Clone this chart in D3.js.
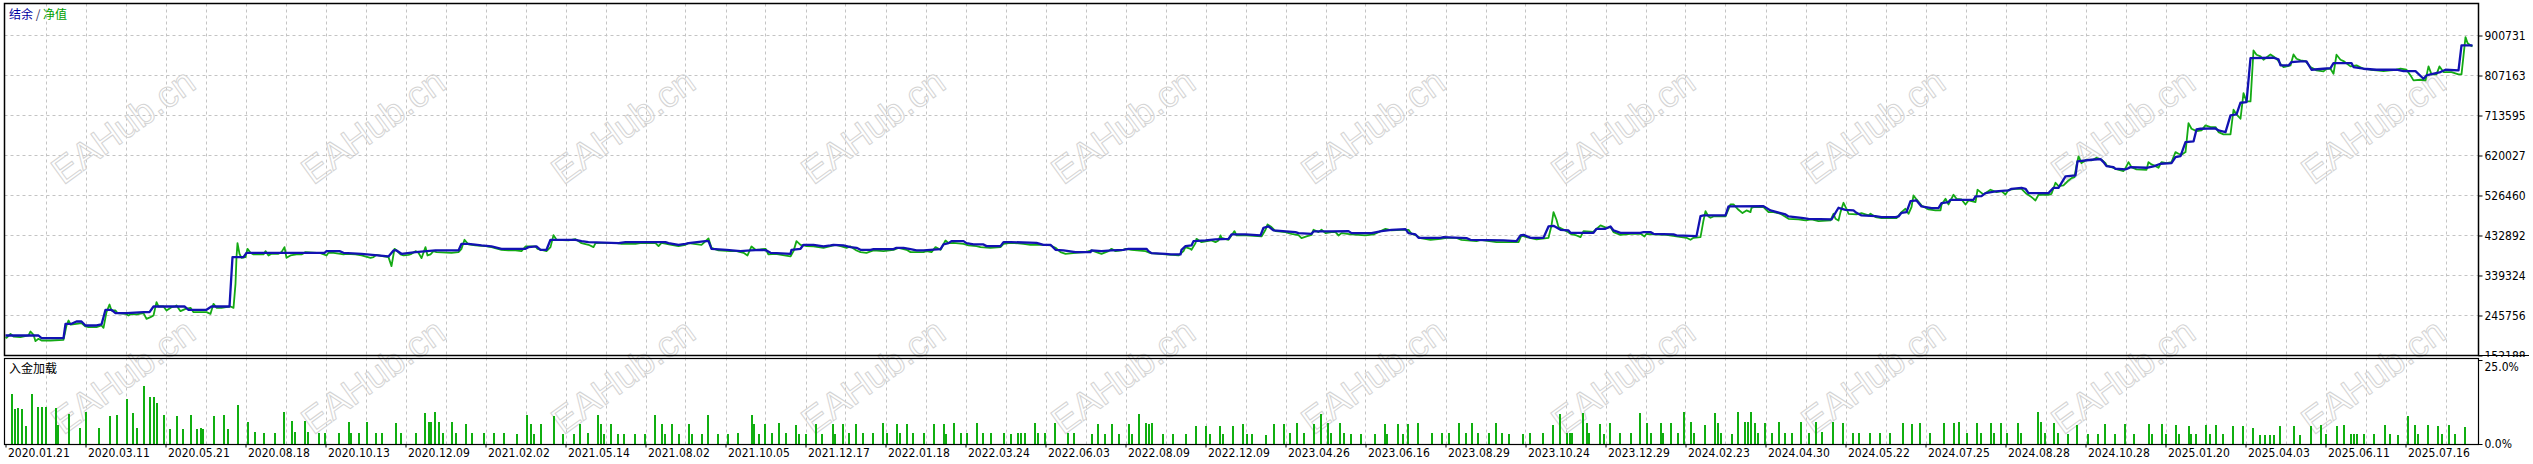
<!DOCTYPE html>
<html>
<head>
<meta charset="utf-8">
<script src="https://cdn.jsdelivr.net/npm/d3@7/dist/d3.min.js"></script>
<style>
  body { margin: 0; background: #fff; }
  svg { display: block; }
  .axis text { font-family: "DejaVu Sans Condensed", "DejaVu Sans", sans-serif; font-size: 12px; fill: #000; }
</style>
</head>
<body>
<div id="chart-area"></div>
<script>
// deal number -> balance
var balance = [[0,198990],[33,198990],[36,192750],[58,192750],[60,226290],[66,226290],[71,231750],[76,231750],[80,222390],[91,222390],[96,224730],[100,259050],[106,259050],[110,251250],[121,251250],[138,253590],[144,253590],[148,266850],[179,266850],[183,259050],[201,259050],[206,266850],[224,266850],[227,382290],[238,382290],[241,392430],[319,392430],[321,396330],[334,396330],[338,392430],[356,390090],[383,383850],[388,397890],[391,397890],[396,390090],[410,393990],[430,397890],[453,397890],[456,413490],[463,413490],[476,409590],[486,407250],[496,401790],[520,401790],[523,405690],[531,407250],[535,399450],[541,399450],[545,422850],[570,422850],[576,419730],[583,417390],[613,415050],[620,417390],[660,417390],[663,415050],[673,411150],[680,413490],[683,415050],[700,419730],[703,419730],[706,401790],[721,399450],[735,396330],[745,397890],[755,399450],[761,397890],[765,392430],[771,391650],[785,390090],[786,399450],[795,401790],[798,411150],[808,411150],[818,407250],[825,409590],[828,411150],[838,409590],[845,405690],[851,404130],[855,399450],[865,399450],[868,401010],[888,401010],[891,404130],[898,404130],[905,401010],[911,397890],[918,397890],[935,401010],[938,411930],[943,415050],[946,419730],[958,419730],[961,415050],[968,411930],[978,411930],[981,408030],[995,408030],[998,417390],[1005,417390],[1031,415830],[1038,411150],[1045,411150],[1050,399450],[1058,397890],[1070,393990],[1085,393990],[1086,397890],[1096,396330],[1106,397890],[1118,399450],[1123,401790],[1141,401790],[1143,396330],[1146,391650],[1160,390090],[1165,388530],[1175,388530],[1176,399450],[1180,408030],[1186,409590],[1188,419730],[1200,421290],[1210,423630],[1223,425190],[1226,435330],[1240,435330],[1255,432990],[1258,450930],[1263,454050],[1268,444690],[1290,440790],[1293,438450],[1306,436890],[1308,442350],[1326,442350],[1343,443130],[1346,438450],[1366,438450],[1376,443130],[1386,446250],[1400,447810],[1403,438450],[1410,435330],[1413,427530],[1435,427530],[1438,429090],[1461,426750],[1465,422850],[1498,421290],[1511,419730],[1515,432990],[1518,434550],[1525,427530],[1538,427530],[1543,454050],[1548,455610],[1555,446250],[1563,444690],[1565,439230],[1588,439230],[1591,448590],[1600,448590],[1605,454050],[1608,444690],[1615,439230],[1635,439230],[1638,440790],[1645,440790],[1648,436890],[1668,435330],[1671,432990],[1691,431430],[1695,478230],[1698,479790],[1720,479790],[1723,500850],[1758,501630],[1765,491490],[1780,482130],[1783,477450],[1796,474330],[1803,471990],[1826,470430],[1833,497730],[1840,493050],[1848,491490],[1851,486030],[1856,479790],[1870,478230],[1876,475890],[1890,475890],[1893,477450],[1896,486030],[1901,487590],[1905,513330],[1911,514890],[1916,500850],[1926,496950],[1933,496950],[1936,508650],[1943,510990],[1945,516450],[1968,516450],[1970,524250],[1976,525030],[1980,532050],[1990,535950],[2003,538290],[2006,542190],[2016,544530],[2020,542190],[2023,532050],[2043,532050],[2048,544530],[2053,544530],[2060,571050],[2070,573390],[2072,606150],[2086,610050],[2095,611610],[2098,604590],[2101,595230],[2108,592890],[2110,588990],[2120,587430],[2123,590550],[2125,592890],[2141,591330],[2148,594450],[2155,600690],[2166,602250],[2170,616290],[2175,618630],[2180,651390],[2188,652950],[2191,681030],[2195,682590],[2210,683370],[2213,678690],[2220,674790],[2225,713790],[2231,716130],[2235,743430],[2241,744990],[2245,847950],[2268,848730],[2273,844830],[2275,830790],[2283,830790],[2286,838590],[2295,840150],[2301,840150],[2306,820650],[2318,822990],[2325,824550],[2328,836250],[2346,836250],[2348,826890],[2358,822990],[2371,820650],[2391,820650],[2398,817530],[2410,817530],[2418,799590],[2421,807390],[2425,809730],[2435,815190],[2440,820650],[2453,819090],[2456,877590],[2467,877590]];

// deal number -> equity
var equity = [[0,195090],[1,193530],[5,202890],[8,196650],[15,195090],[23,198990],[25,208350],[28,200550],[30,185730],[33,191190],[36,187290],[45,187290],[58,188850],[61,222390],[63,234090],[65,224730],[71,226290],[76,227850],[80,220050],[83,218490],[91,218490],[96,222390],[98,216930],[101,253590],[104,271530],[106,257490],[110,257490],[112,251250],[120,249690],[123,245790],[126,249690],[131,248130],[138,251250],[141,237990],[145,241890],[148,245790],[151,276990],[153,266850],[158,266850],[161,257490],[166,265290],[170,266850],[171,269190],[175,255930],[180,261390],[185,263730],[188,253590],[201,253590],[205,249690],[208,273090],[211,263730],[216,263730],[225,266850],[228,263730],[230,319890],[231,382290],[232,415050],[234,390090],[236,380730],[240,382290],[242,401790],[245,392430],[248,388530],[258,388530],[260,396330],[263,386190],[266,390090],[273,390090],[276,393990],[279,405690],[281,380730],[285,386190],[291,388530],[296,388530],[300,393990],[315,391650],[321,386190],[323,392430],[328,392430],[335,390090],[338,388530],[341,390090],[350,388530],[356,386190],[365,380730],[368,382290],[371,387750],[378,383850],[383,382290],[386,361230],[389,401790],[391,397890],[395,388530],[398,386190],[403,387750],[406,390090],[410,396330],[413,392430],[416,379950],[420,405690],[422,386190],[425,388530],[428,396330],[431,393990],[446,392430],[453,393990],[456,401790],[459,422850],[463,411930],[470,409590],[480,408030],[486,405690],[496,399450],[503,397890],[510,397890],[516,396330],[520,407250],[530,407250],[532,401790],[538,397890],[541,396330],[545,405690],[548,433770],[551,422850],[563,421290],[570,424410],[576,415050],[583,411150],[588,405690],[590,415050],[596,415830],[610,415830],[616,413490],[630,413490],[636,415830],[650,415050],[653,408030],[656,415830],[666,411150],[673,408030],[680,411150],[683,415050],[696,411150],[703,425970],[706,404130],[713,397890],[725,396330],[731,396330],[738,392430],[742,386190],[746,407250],[750,399450],[755,400230],[760,401790],[763,388530],[770,390090],[785,383850],[788,396330],[791,419730],[795,411150],[798,409590],[801,408030],[808,407250],[818,404130],[825,408030],[830,411150],[836,407250],[841,404130],[845,407250],[851,397890],[855,393990],[861,392430],[868,397890],[878,396330],[888,399450],[893,404130],[901,399450],[905,393990],[918,393990],[921,396330],[926,393990],[930,405690],[935,399450],[940,421290],[943,415050],[948,415830],[958,413490],[963,409590],[971,408030],[975,405690],[985,404130],[995,405690],[998,413490],[1005,415830],[1018,413490],[1025,411150],[1038,411150],[1045,409590],[1050,404130],[1055,393990],[1060,390090],[1070,392430],[1080,393990],[1086,397890],[1093,392430],[1096,390090],[1103,396330],[1106,401790],[1110,396330],[1116,397890],[1120,401790],[1126,399450],[1140,396330],[1145,391650],[1160,388530],[1173,386190],[1178,396330],[1180,405690],[1185,401790],[1186,399450],[1190,415050],[1191,425190],[1196,417390],[1206,421290],[1210,417390],[1213,421290],[1215,432990],[1216,427530],[1223,422850],[1226,432990],[1229,443130],[1231,432990],[1241,432990],[1256,430650],[1260,446250],[1262,458730],[1266,452490],[1270,443130],[1280,440790],[1286,436890],[1293,433770],[1296,426750],[1301,430650],[1306,434550],[1308,446250],[1313,440790],[1316,446250],[1320,438450],[1326,440790],[1330,440790],[1333,432990],[1336,438450],[1346,435330],[1360,432990],[1368,435330],[1373,440790],[1380,448590],[1386,444690],[1396,446250],[1403,446250],[1406,436890],[1411,432990],[1415,426750],[1425,422850],[1435,425190],[1441,427530],[1451,427530],[1456,422850],[1471,419730],[1475,422850],[1491,417390],[1513,417390],[1516,432990],[1521,429090],[1531,423630],[1543,427530],[1546,456390],[1548,487590],[1551,469650],[1553,452490],[1561,443130],[1565,436890],[1571,432990],[1575,429090],[1578,443130],[1588,441570],[1595,456390],[1601,450930],[1605,452490],[1608,440790],[1615,434550],[1625,436890],[1635,436890],[1639,430650],[1641,436890],[1648,435330],[1661,434550],[1671,430650],[1681,427530],[1685,422850],[1688,427530],[1695,429090],[1698,468090],[1700,489930],[1703,477450],[1705,474330],[1708,477450],[1720,477450],[1725,505530],[1728,505530],[1733,493050],[1737,485250],[1741,491490],[1745,487590],[1746,497730],[1748,499290],[1758,499290],[1763,487590],[1768,487590],[1775,483690],[1783,471990],[1793,470430],[1800,468090],[1806,470430],[1813,466530],[1825,468090],[1828,483690],[1830,471990],[1833,468090],[1835,487590],[1838,509430],[1841,495390],[1843,483690],[1851,482130],[1856,485250],[1863,479790],[1865,483690],[1870,475890],[1876,473550],[1891,473550],[1896,487590],[1900,495390],[1903,483690],[1906,499290],[1908,526590],[1911,517230],[1916,503190],[1923,493830],[1930,491490],[1935,491490],[1936,504750],[1940,518790],[1943,505530],[1948,528150],[1951,518790],[1956,517230],[1960,505530],[1963,514890],[1970,510990],[1972,539850],[1975,534390],[1978,528930],[1985,539850],[1991,534390],[1996,536730],[2000,528930],[2003,539850],[2010,542190],[2016,542190],[2021,530490],[2026,522690],[2030,514890],[2033,528150],[2043,528150],[2046,530490],[2050,556230],[2053,548430],[2058,549990],[2063,561690],[2066,567150],[2069,569490],[2071,596790],[2073,617850],[2076,602250],[2081,610050],[2086,608490],[2091,614730],[2096,610050],[2100,602250],[2101,596790],[2110,588990],[2118,583530],[2120,590550],[2123,604590],[2126,592890],[2131,587430],[2141,586650],[2143,604590],[2146,599130],[2150,595230],[2153,591330],[2156,604590],[2161,602250],[2166,604590],[2170,627990],[2173,624090],[2176,621750],[2180,627990],[2183,695850],[2186,682590],[2191,677130],[2196,678690],[2200,690390],[2205,686490],[2210,686490],[2213,674790],[2218,669330],[2225,669330],[2228,727050],[2231,716130],[2235,705990],[2238,766050],[2241,746550],[2245,746550],[2248,865890],[2251,855750],[2255,851850],[2258,844050],[2265,856530],[2268,851850],[2271,846390],[2275,834690],[2278,826890],[2285,830790],[2288,856530],[2291,846390],[2295,842490],[2300,840930],[2305,826890],[2311,819090],[2318,816750],[2321,822990],[2325,822990],[2328,811290],[2331,855750],[2335,844050],[2338,840930],[2345,828450],[2351,830790],[2358,822990],[2365,820650],[2371,819090],[2378,817530],[2385,819090],[2391,820650],[2395,822990],[2401,820650],[2405,807390],[2408,795690],[2415,797250],[2420,795690],[2423,828450],[2426,809730],[2431,809730],[2434,828450],[2438,815190],[2446,815190],[2453,809730],[2456,809730],[2460,897090],[2462,883050],[2465,877590],[2467,875250]];

// deal number -> deposit load, %
var depositLoad = [[6,14.8],[9,10.5],[12,10.7],[16,10.4],[20,5.4],[26,14.8],[32,11.0],[36,11.0],[40,11.0],[50,10.7],[52,5.7],[63,8.9],[74,4.7],[80,9.5],[93,4.7],[104,8.2],[111,8.7],[121,13.4],[127,9.2],[131,4.7],[138,17.4],[144,13.9],[148,13.9],[151,12.2],[158,8.5],[164,4.5],[171,8.4],[177,4.5],[185,8.5],[191,4.5],[195,4.7],[198,4.4],[208,8.4],[218,8.5],[222,4.4],[232,11.5],[242,6.5],[249,3.6],[259,3.3],[269,3.3],[279,9.5],[286,6.9],[289,3.6],[299,6.9],[302,3.6],[313,3.3],[319,3.3],[333,3.3],[343,6.5],[346,3.3],[353,3.3],
  [362,6.5],[370,3.3],[376,3.3],[390,6.2],[396,3.3],[410,3.3],[420,9.2],[423,6.5],[426,6.5],[430,9.5],[433,6.5],[437,3.3],[446,6.5],[450,3.3],[460,5.9],[466,3.3],[478,3.3],[488,3.3],[498,3.3],[511,3.0],[521,8.7],[525,5.9],[528,3.0],[535,5.9],[548,8.2],[558,3.0],[568,3.0],[575,5.9],[582,3.3],[592,8.7],[595,5.9],[598,3.0],[605,5.9],[612,3.0],[618,3.0],[629,3.0],[639,3.0],[649,8.7],[656,5.9],[659,3.0],[666,5.9],[673,3.0],[683,5.9],[686,3.0],[696,3.0],[703,8.7],
  [712,3.0],[722,3.0],[732,3.3],[746,8.7],[749,5.9],[753,3.0],[759,5.9],[766,3.3],[773,6.2],[780,3.3],[790,5.7],[793,3.0],[800,3.0],[810,5.9],[817,3.0],[827,5.9],[830,3.0],[837,5.9],[843,3.3],[850,5.9],[857,3.3],[867,3.3],[877,6.2],[881,3.3],[891,5.9],[894,3.3],[901,5.9],[907,3.3],[918,3.3],[928,5.9],[938,5.9],[941,3.0],[948,6.2],[955,3.3],[961,3.3],[971,6.2],[978,3.3],[985,3.3],[998,3.3],[1005,3.0],[1012,3.3],[1015,3.3],[1019,3.3],[1029,6.2],[1032,3.3],[1039,3.3],[1049,6.2],[1062,3.3],
  [1069,3.3],[1086,3.0],[1093,5.9],[1099,3.0],[1106,5.9],[1113,3.0],[1123,5.9],[1126,3.0],[1133,8.9],[1140,6.2],[1143,5.9],[1146,6.2],[1157,3.0],[1167,3.0],[1180,3.0],[1190,5.5],[1200,5.5],[1204,3.0],[1214,5.5],[1217,3.0],[1227,5.5],[1237,5.9],[1241,3.0],[1247,3.0],[1261,2.8],[1268,5.9],[1278,5.9],[1284,3.3],[1291,6.2],[1298,3.3],[1308,5.9],[1315,8.9],[1322,6.2],[1325,3.3],[1335,6.2],[1338,3.3],[1345,3.0],[1355,3.0],[1369,3.0],[1379,5.9],[1382,3.0],[1392,5.9],[1398,3.0],[1402,5.9],[1412,6.2],
  [1426,3.3],[1436,3.3],[1443,3.3],[1453,6.2],[1460,3.3],[1466,6.2],[1473,3.3],[1483,3.3],[1490,6.2],[1497,3.3],[1503,3.0],[1517,3.0],[1524,3.3],[1537,3.3],[1547,5.7],[1554,8.9],[1561,3.3],[1564,3.3],[1567,3.3],[1577,9.2],[1581,6.2],[1584,3.3],[1594,5.9],[1598,3.0],[1604,6.2],[1614,3.3],[1625,3.3],[1635,9.2],[1641,6.2],[1645,3.3],[1655,6.2],[1658,3.3],[1665,6.2],[1672,3.3],[1678,9.5],[1685,6.5],[1688,3.3],[1699,5.7],[1709,9.2],[1712,6.2],[1715,3.3],[1726,3.0],[1732,9.5],[1739,6.5],[1742,6.5],[1746,9.5],[1749,6.2],[1752,3.3],[1759,6.2],[1766,3.3],[1773,6.5],
  [1779,3.3],[1786,3.3],[1796,6.5],[1803,3.3],[1810,6.5],[1816,3.6],[1827,6.5],[1837,6.2],[1847,3.3],[1853,3.3],[1864,3.3],[1874,3.3],[1884,3.3],[1897,6.2],[1907,6.0],[1914,6.2],[1924,3.3],[1938,6.2],[1948,6.2],[1954,6.5],[1961,3.3],[1971,6.2],[1975,3.3],[1985,6.2],[1988,3.3],[1995,6.2],[2002,3.3],[2012,6.2],[2015,3.3],[2032,9.5],[2035,6.5],[2039,3.3],[2049,6.2],[2052,3.3],[2062,3.0],[2072,5.7],[2082,3.0],[2092,3.0],[2099,5.9],[2109,3.0],[2119,5.9],[2128,3.0],
  [2143,5.9],[2146,3.0],[2156,5.9],[2160,3.0],[2170,5.7],[2173,3.0],[2183,5.4],[2186,3.0],[2190,3.0],[2200,5.7],[2204,3.0],[2210,5.7],[2217,3.0],[2227,5.4],[2237,5.4],[2247,4.7],[2254,2.8],[2259,2.8],[2264,2.8],[2268,2.8],[2274,5.4],[2288,5.4],[2294,2.8],[2305,5.4],[2315,5.7],[2321,3.0],[2331,5.4],[2338,5.7],[2345,3.0],[2348,3.0],[2351,3.0],[2358,3.0],[2369,3.0],[2379,5.7],[2385,3.0],[2392,2.8],[2402,8.4],[2409,5.7],[2412,3.0],[2422,5.7],[2432,5.4],[2436,3.0],[2443,5.7],[2449,3.0],[2459,5.0]];

var valueTicks = [152188, 245756, 339324, 432892, 526460, 620027, 713595, 807163, 900731];
var loadTicks = [0, 25];
var dateLabels = ["2020.01.21","2020.03.11","2020.05.21","2020.08.18","2020.10.13","2020.12.09","2021.02.02","2021.05.14","2021.08.02","2021.10.05","2021.12.17","2022.01.18","2022.03.24","2022.06.03","2022.08.09","2022.12.09","2023.04.26","2023.06.16","2023.08.29","2023.10.24","2023.12.29","2024.02.23","2024.04.30","2024.05.22","2024.07.25","2024.08.28","2024.10.28","2025.01.20","2025.04.03","2025.06.11","2025.07.16"];

var width = 2533, height = 464;
var left = 4.5, right = 2478.5;
var mainTop = 3.5, mainBottom = 355.5, subTop = 358.5, subBottom = 444.5;
var lastDeal = 2473;

var svg = d3.select("#chart-area").append("svg")
  .attr("width", width)
  .attr("height", height);

var x = d3.scaleLinear().domain([0, lastDeal]).range([5.5, 2478.5]);
var y = d3.scaleLinear().domain([152188, 900731]).range([355.5, 35.5]);
var yLoad = d3.scaleLinear().domain([0, 25]).range([444, 360]);

var gridColor = "#c4c4c4";
var gridX = d3.range(40, lastDeal, 40);

// vertical grid, both panels
svg.append("g").selectAll("line")
  .data(gridX).enter().append("line")
  .attr("x1", d => Math.round(x(d)) + 0.5).attr("x2", d => Math.round(x(d)) + 0.5)
  .attr("y1", mainTop).attr("y2", subBottom)
  .attr("stroke", gridColor).attr("stroke-dasharray", "3,3");

// horizontal grid, main panel
svg.append("g").selectAll("line")
  .data(valueTicks.slice(1)).enter().append("line")
  .attr("x1", left).attr("x2", right)
  .attr("y1", d => y(d)).attr("y2", d => y(d))
  .attr("stroke", gridColor).attr("stroke-dasharray", "3,3");

// watermark
var marks = [];
d3.range(10).forEach(k => { marks.push([123 + 250 * k, 126]); marks.push([123 + 250 * k, 376]); });
svg.append("g").selectAll("text")
  .data(marks).enter().append("text")
  .attr("transform", d => "translate(" + d[0] + "," + d[1] + ") rotate(-36)")
  .attr("text-anchor", "middle")
  .attr("dy", "0.35em")
  .attr("font-family", "Liberation Sans, Arial, sans-serif")
  .attr("font-size", 37)
  .attr("fill", "none")
  .attr("stroke", "#d4d4d4")
  .attr("stroke-width", 1)
  .text("EAHub.cn");

var line = d3.line().x(d => x(d[0])).y(d => y(d[1]));

svg.append("path")
  .datum(equity)
  .attr("d", line)
  .attr("fill", "none")
  .attr("stroke", "#14aa14")
  .attr("stroke-width", 1.8)
  .attr("stroke-linejoin", "round");

svg.append("path")
  .datum(balance)
  .attr("d", line)
  .attr("fill", "none")
  .attr("stroke", "#1212b2")
  .attr("stroke-width", 2.3)
  .attr("stroke-linejoin", "round");

// deposit load bars
svg.append("g").selectAll("rect")
  .data(depositLoad).enter().append("rect")
  .attr("x", d => Math.round(x(d[0])) - 1)
  .attr("width", 2)
  .attr("y", d => Math.round(yLoad(d[1])))
  .attr("height", d => 444 - Math.round(yLoad(d[1])))
  .attr("fill", "#10ae10");

// value axis
var valueAxis = d3.axisRight(y).tickValues(valueTicks).tickSize(4).tickPadding(2).tickFormat(d3.format("d"));
svg.append("g")
  .attr("class", "axis")
  .attr("transform", "translate(" + right + ",0)")
  .call(valueAxis)
  .call(g => g.select(".domain").remove());

// cover the bottom of the last value label, as the sub window does
svg.append("rect")
  .attr("x", right + 0.5).attr("y", 357)
  .attr("width", width - right).attr("height", height - 357)
  .attr("fill", "#fff");

// panel frames
svg.append("rect")
  .attr("x", left).attr("y", mainTop)
  .attr("width", right - left).attr("height", mainBottom - mainTop)
  .attr("fill", "none").attr("stroke", "#000").attr("stroke-width", 1.5);
svg.append("line")
  .attr("x1", left).attr("x2", width - 4)
  .attr("y1", mainBottom).attr("y2", mainBottom)
  .attr("stroke", "#000").attr("stroke-width", 1.2);
svg.append("rect")
  .attr("x", left).attr("y", subTop)
  .attr("width", right - left).attr("height", subBottom - subTop)
  .attr("fill", "none").attr("stroke", "#000").attr("stroke-width", 1.2);

// load axis
var loadAxis = d3.axisRight(yLoad).tickValues(loadTicks).tickSize(4).tickPadding(2).tickFormat(d => d.toFixed(1) + "%");
svg.append("g")
  .attr("class", "axis")
  .attr("transform", "translate(" + right + ",0)")
  .call(loadAxis)
  .call(g => g.select(".domain").remove())
  .call(g => g.selectAll(".tick text").attr("y", d => d === 25 ? 7 : 0));

// date axis
var dateTicks = d3.range(0, lastDeal, 80);
var dateAxis = d3.axisBottom(x).tickValues(dateTicks).tickSize(3)
  .tickFormat((d, i) => dateLabels[i]);
svg.append("g")
  .attr("class", "axis")
  .attr("transform", "translate(0," + subBottom + ")")
  .call(dateAxis)
  .call(g => g.select(".domain").remove())
  .call(g => g.selectAll(".tick text").attr("text-anchor", "start").attr("x", 2).attr("y", 4));

// window captions
var cap = svg.append("text")
  .attr("x", 9).attr("y", 19)
  .attr("font-family", "Noto Sans CJK SC, sans-serif")
  .attr("font-size", 12);
cap.append("tspan").attr("fill", "#0000a0").text("结余");
cap.append("tspan").attr("fill", "#303060").text(" / ");
cap.append("tspan").attr("fill", "#00a000").text("净值");

svg.append("text")
  .attr("x", 9).attr("y", 373)
  .attr("font-family", "Noto Sans CJK SC, sans-serif")
  .attr("font-size", 12)
  .attr("fill", "#000")
  .text("入金加载");
</script>
</body>
</html>
